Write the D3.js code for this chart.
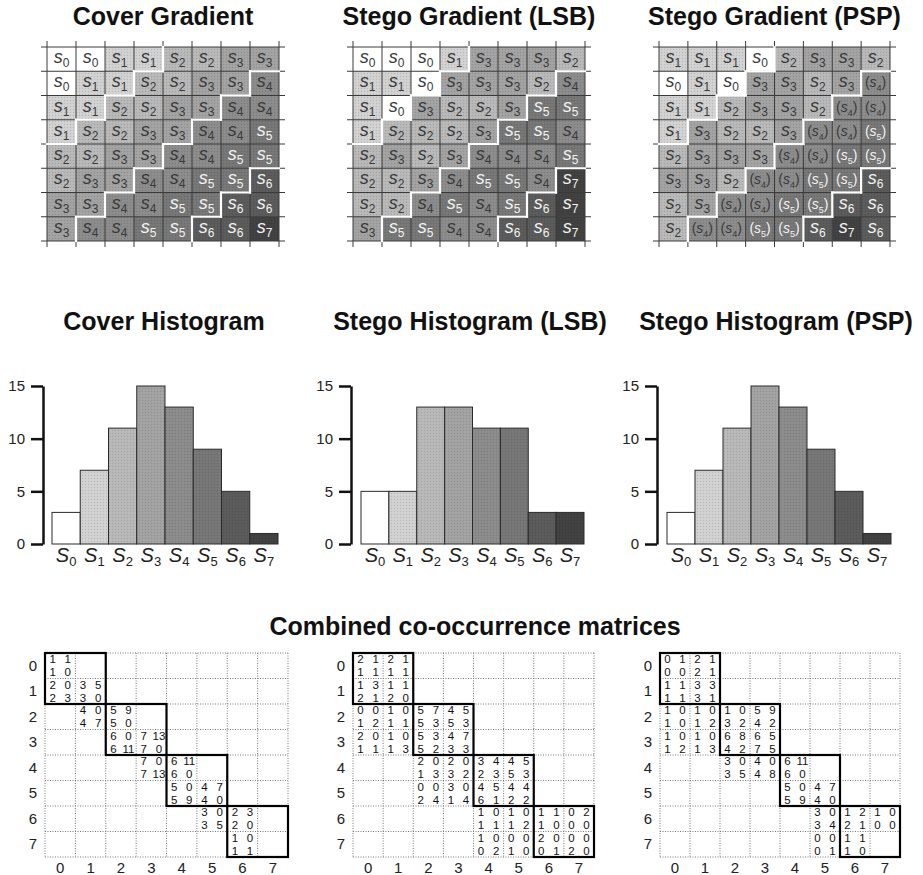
<!DOCTYPE html>
<html>
<head>
<meta charset="utf-8">
<script src="https://cdn.jsdelivr.net/npm/d3@7"></script>
<style>
  body { margin: 0; background: #fff; }
  svg text { font-family: "Liberation Sans", Arial, Helvetica, sans-serif; }
</style>
</head>
<body>
<svg id="chart" width="923" height="875"></svg>
<script>
// ---- data ----
const levels = d3.range(8); // s0 .. s7

const coverGrid = [
	[0, 0, 1, 1, 2, 2, 3, 3],
	[0, 1, 1, 2, 2, 3, 3, 4],
	[1, 1, 2, 2, 3, 3, 4, 4],
	[1, 2, 2, 3, 3, 4, 4, 5],
	[2, 2, 3, 3, 4, 4, 5, 5],
	[2, 3, 3, 4, 4, 5, 5, 6],
	[3, 3, 4, 4, 5, 5, 6, 6],
	[3, 4, 4, 5, 5, 6, 6, 7]
];

const lsbGrid = [
	[0, 0, 0, 1, 3, 3, 3, 2],
	[1, 1, 0, 3, 3, 3, 2, 4],
	[1, 0, 3, 2, 2, 3, 5, 5],
	[1, 2, 2, 2, 3, 5, 5, 4],
	[2, 3, 2, 3, 4, 4, 4, 5],
	[2, 2, 3, 4, 5, 5, 4, 7],
	[2, 2, 4, 5, 4, 5, 6, 7],
	[3, 5, 5, 4, 4, 6, 6, 7]
];

const pspGrid = [
	[1, 1, 1, 0, 2, 3, 3, 2],
	[0, 1, 0, 3, 3, 2, 3, 4],
	[1, 1, 2, 3, 3, 2, 4, 4],
	[1, 3, 2, 2, 3, 4, 4, 5],
	[2, 3, 3, 3, 4, 4, 5, 5],
	[3, 3, 2, 4, 4, 5, 5, 6],
	[2, 3, 4, 4, 5, 5, 6, 6],
	[2, 4, 4, 5, 5, 6, 7, 6]
];

// 1 = value shown in brackets (left untouched by PSP)
const pspKept = [
	[0, 0, 0, 0, 0, 0, 0, 0],
	[0, 0, 0, 0, 0, 0, 0, 1],
	[0, 0, 0, 0, 0, 0, 1, 1],
	[0, 0, 0, 0, 0, 1, 1, 1],
	[0, 0, 0, 0, 1, 1, 1, 1],
	[0, 0, 0, 1, 1, 1, 1, 0],
	[0, 0, 1, 1, 1, 1, 0, 0],
	[0, 1, 1, 1, 1, 0, 0, 0]
];

const coverHist = [3, 7, 11, 15, 13, 9, 5, 1];
const lsbHist = [5, 5, 13, 13, 11, 11, 3, 3];
const pspHist = [3, 7, 11, 15, 13, 9, 5, 1];
const yTicks = [0, 5, 10, 15];

// co-occurrence: 16 sub-rows x 16 sub-cols, '.' = empty
const coverCooc = [
	'1 1 . . . . . . . . . . . . . .',
	'1 0 . . . . . . . . . . . . . .',
	'2 0 3 5 . . . . . . . . . . . .',
	'2 3 3 0 . . . . . . . . . . . .',
	'. . 4 0 5 9 . . . . . . . . . .',
	'. . 4 7 5 0 . . . . . . . . . .',
	'. . . . 6 0 7 13 . . . . . . . .',
	'. . . . 6 11 7 0 . . . . . . . .',
	'. . . . . . 7 0 6 11 . . . . . .',
	'. . . . . . 7 13 6 0 . . . . . .',
	'. . . . . . . . 5 0 4 7 . . . .',
	'. . . . . . . . 5 9 4 0 . . . .',
	'. . . . . . . . . . 3 0 2 3 . .',
	'. . . . . . . . . . 3 5 2 0 . .',
	'. . . . . . . . . . . . 1 0 . .',
	'. . . . . . . . . . . . 1 1 . .'
];

const lsbCooc = [
	'2 1 2 1 . . . . . . . . . . . .',
	'1 1 1 1 . . . . . . . . . . . .',
	'1 3 1 1 . . . . . . . . . . . .',
	'2 1 2 0 . . . . . . . . . . . .',
	'0 0 1 0 5 7 4 5 . . . . . . . .',
	'1 2 1 1 5 3 5 3 . . . . . . . .',
	'2 0 1 0 5 3 4 7 . . . . . . . .',
	'1 1 1 3 5 2 3 3 . . . . . . . .',
	'. . . . 2 0 2 0 3 4 4 5 . . . .',
	'. . . . 1 3 3 2 2 3 5 3 . . . .',
	'. . . . 0 0 3 0 4 5 4 4 . . . .',
	'. . . . 2 4 1 4 6 1 2 2 . . . .',
	'. . . . . . . . 1 0 1 0 1 1 0 2',
	'. . . . . . . . 1 1 1 2 1 0 0 0',
	'. . . . . . . . 1 0 0 0 2 0 0 0',
	'. . . . . . . . 0 2 1 0 0 1 2 0'
];

const pspCooc = [
	'0 1 2 1 . . . . . . . . . . . .',
	'0 0 2 1 . . . . . . . . . . . .',
	'1 1 3 3 . . . . . . . . . . . .',
	'1 1 3 1 . . . . . . . . . . . .',
	'1 0 1 0 1 0 5 9 . . . . . . . .',
	'1 0 1 2 3 2 4 2 . . . . . . . .',
	'1 0 1 0 6 8 6 5 . . . . . . . .',
	'1 2 1 3 4 2 7 5 . . . . . . . .',
	'. . . . 3 0 4 0 6 11 . . . . . .',
	'. . . . 3 5 4 8 6 0 . . . . . .',
	'. . . . . . . . 5 0 4 7 . . . .',
	'. . . . . . . . 5 9 4 0 . . . .',
	'. . . . . . . . . . 3 0 1 2 1 0',
	'. . . . . . . . . . 3 4 2 1 0 0',
	'. . . . . . . . . . 0 0 1 1 . .',
	'. . . . . . . . . . 0 1 1 0 . .'
];

const blockStarts = [0, 2, 4, 6]; // the s_{2k}/s_{2k+1} pair blocks

// ---- style ----
const shades = ['#ffffff', '#d3d3d3', '#bababa', '#a4a4a4', '#8d8d8d', '#787878', '#5c5c5c', '#424242'];
const group = (v) => Math.floor(v / 2);

const svg = d3.select('#chart');

// halftone dots, the print look of the original
const defs = svg.append('defs');
defs.append('pattern')
	.attr('id', 'dots')
	.attr('width', 3)
	.attr('height', 3)
	.attr('patternUnits', 'userSpaceOnUse')
	.append('circle')
	.attr('cx', 1.5)
	.attr('cy', 1.5)
	.attr('r', 0.7)
	.attr('fill', 'rgba(0,0,0,0.13)');

function title(g, x, y, txt) {
	g.append('text')
		.attr('x', x)
		.attr('y', y)
		.attr('text-anchor', 'middle')
		.attr('font-size', 25)
		.attr('font-weight', 'bold')
		.attr('fill', '#111')
		.text(txt);
}

/**
 * Draws one 8x8 gradient image with s_k labels
 */
function drawGradient(grid, kept, box, txt) {
	const g = svg.append('g').attr('class', 'gradient');
	const x = d3.scaleBand().domain(d3.range(8)).range([box.x0, box.x1]);
	const y = d3.scaleBand().domain(d3.range(8)).range([box.y0, box.y1]);

	const cells = grid.flatMap((row, r) =>
		row.map((v, c) => ({ r, c, v, kept: kept ? kept[r][c] === 1 : false }))
	);

	title(g, (box.x0 + box.x1) / 2, 25, txt);

	g.selectAll('rect.cell')
		.data(cells)
		.join('rect')
		.attr('class', 'cell')
		.attr('x', (d) => x(d.c))
		.attr('y', (d) => y(d.r))
		.attr('width', x.bandwidth())
		.attr('height', y.bandwidth())
		.attr('fill', (d) => shades[d.v]);

	g.selectAll('rect.dots')
		.data(cells.filter((d) => d.v > 0))
		.join('rect')
		.attr('class', 'dots')
		.attr('x', (d) => x(d.c))
		.attr('y', (d) => y(d.r))
		.attr('width', x.bandwidth())
		.attr('height', y.bandwidth())
		.attr('fill', 'url(#dots)');

	// grid lines, running a little past the edges
	const ext = 6;
	const xs = d3.range(9).map((i) => box.x0 + i * x.step());
	const ys = d3.range(9).map((i) => box.y0 + i * y.step());
	g.selectAll('line.gv')
		.data(xs)
		.join('line')
		.attr('x1', (d) => d)
		.attr('x2', (d) => d)
		.attr('y1', box.y0 - ext)
		.attr('y2', box.y1 + ext)
		.attr('stroke', '#3a3a3a')
		.attr('stroke-width', 1);
	g.selectAll('line.gh')
		.data(ys)
		.join('line')
		.attr('x1', box.x0 - ext)
		.attr('x2', box.x1 + ext)
		.attr('y1', (d) => d)
		.attr('y2', (d) => d)
		.attr('stroke', '#3a3a3a')
		.attr('stroke-width', 1);

	// white borders between pair groups
	const seg = [];
	cells.forEach((d) => {
		if (d.c < 7 && group(d.v) !== group(grid[d.r][d.c + 1])) {
			const xx = x(d.c + 1);
			seg.push([xx, y(d.r), xx, y(d.r) + y.bandwidth()]);
		}
		if (d.r < 7 && group(d.v) !== group(grid[d.r + 1][d.c])) {
			const yy = y(d.r + 1);
			seg.push([x(d.c), yy, x(d.c) + x.bandwidth(), yy]);
		}
	});
	g.selectAll('line.wb')
		.data(seg)
		.join('line')
		.attr('x1', (d) => d[0])
		.attr('y1', (d) => d[1])
		.attr('x2', (d) => d[2])
		.attr('y2', (d) => d[3])
		.attr('stroke', '#fff')
		.attr('stroke-width', 2.2)
		.attr('stroke-linecap', 'square');

	const labels = g.selectAll('text.lab')
		.data(cells)
		.join('text')
		.attr('class', 'lab')
		.attr('x', (d) => x(d.c) + x.bandwidth() / 2)
		.attr('y', (d) => y(d.r) + y.bandwidth() / 2 + 4)
		.attr('text-anchor', 'middle')
		.attr('font-size', (d) => (d.kept ? 14 : 18))
		.attr('fill', (d) => (d.v >= 5 ? '#f2f2f2' : '#3a3a3a'));

	labels.each(function (d) {
		const t = d3.select(this);
		if (d.kept) t.append('tspan').text('(');
		t.append('tspan').attr('font-style', 'italic').text('s');
		t.append('tspan')
			.attr('font-size', d.kept ? 9 : 12)
			.attr('dy', 4)
			.text(d.v);
		if (d.kept) t.append('tspan').attr('dy', -4).text(')');
	});
}

/**
 * Histogram of s_k counts
 */
function drawHistogram(counts, box, txt) {
	const g = svg.append('g').attr('class', 'histogram');
	const x = d3.scaleBand().domain(levels).range([box.bx0, box.bx1]);
	const y = d3.scaleLinear().domain([0, 15]).range([544, 386]);

	title(g, box.tx, 330, txt);

	g.selectAll('rect.bar')
		.data(counts)
		.join('rect')
		.attr('class', 'bar')
		.attr('x', (d, i) => x(i))
		.attr('y', (d) => y(d))
		.attr('width', x.bandwidth())
		.attr('height', (d) => y(0) - y(d))
		.attr('fill', (d, i) => shades[i])
		.attr('stroke', '#2a2a2a')
		.attr('stroke-width', 1);

	g.selectAll('rect.bdots')
		.data(counts)
		.join('rect')
		.attr('class', 'bdots')
		.attr('x', (d, i) => x(i) + 0.5)
		.attr('y', (d) => y(d) + 0.5)
		.attr('width', (d, i) => (i === 0 ? 0 : x.bandwidth() - 1))
		.attr('height', (d) => Math.max(0, y(0) - y(d) - 1))
		.attr('fill', 'url(#dots)');

	const axis = d3.axisLeft(y)
		.tickValues(yTicks)
		.tickSize(12)
		.tickSizeOuter(0)
		.tickPadding(6);

	const ax = g.append('g')
		.attr('transform', `translate(${box.ax},0)`)
		.call(axis);
	ax.select('.domain').attr('stroke', '#111').attr('stroke-width', 2.5);
	ax.selectAll('.tick line').attr('stroke', '#111').attr('stroke-width', 2.5);
	ax.selectAll('.tick text')
		.attr('font-size', 15)
		.attr('fill', '#222')
		.style('font-family', '"Liberation Sans", Arial, sans-serif');

	const xl = g.selectAll('text.xl')
		.data(levels)
		.join('text')
		.attr('class', 'xl')
		.attr('x', (d) => x(d) + x.bandwidth() / 2)
		.attr('y', 562)
		.attr('text-anchor', 'middle')
		.attr('fill', '#222')
		.attr('font-size', 20);
	xl.append('tspan').attr('font-style', 'italic').text('S');
	xl.append('tspan').attr('font-size', 13).attr('dy', 4).text((d) => d);
}

/**
 * Combined co-occurrence matrix, 8x8 cells each holding 2x2 counts
 */
function drawCooc(rows, box) {
	const vals = rows.map((s) => s.split(' ').map((t) => (t === '.' ? null : +t)));
	const g = svg.append('g').attr('class', 'cooc');
	const x = d3.scaleBand().domain(d3.range(16)).range([box.x0, box.x1]);
	const y = d3.scaleBand().domain(d3.range(16)).range([box.y0, box.y1]);
	const cw = x.step() * 2;
	const ch = y.step() * 2;

	const xs = d3.range(9).map((i) => box.x0 + i * cw);
	const ys = d3.range(9).map((i) => box.y0 + i * ch);
	g.selectAll('line.gv')
		.data(xs)
		.join('line')
		.attr('x1', (d) => d)
		.attr('x2', (d) => d)
		.attr('y1', box.y0)
		.attr('y2', box.y1)
		.attr('stroke', '#777')
		.attr('stroke-width', 1)
		.attr('stroke-dasharray', '1,1.5');
	g.selectAll('line.gh')
		.data(ys)
		.join('line')
		.attr('x1', box.x0)
		.attr('x2', box.x1)
		.attr('y1', (d) => d)
		.attr('y2', (d) => d)
		.attr('stroke', '#777')
		.attr('stroke-width', 1)
		.attr('stroke-dasharray', '1,1.5');

	g.selectAll('rect.block')
		.data(blockStarts)
		.join('rect')
		.attr('class', 'block')
		.attr('x', (d) => box.x0 + d * cw)
		.attr('y', (d) => box.y0 + d * ch)
		.attr('width', cw * 2)
		.attr('height', ch * 2)
		.attr('fill', 'none')
		.attr('stroke', '#000')
		.attr('stroke-width', 2.2);

	const nums = vals.flatMap((row, r) =>
		row.map((v, c) => ({ r, c, v })).filter((d) => d.v !== null)
	);
	g.selectAll('text.num')
		.data(nums)
		.join('text')
		.attr('class', 'num')
		.attr('x', (d) => x(d.c) + x.bandwidth() / 2)
		.attr('y', (d) => y(d.r) + y.bandwidth() / 2 + 4)
		.attr('text-anchor', 'middle')
		.attr('font-size', 11.5)
		.attr('fill', '#111')
		.text((d) => d.v);

	g.selectAll('text.rl')
		.data(levels)
		.join('text')
		.attr('class', 'rl')
		.attr('x', box.x0 - 12)
		.attr('y', (d) => box.y0 + d * ch + ch / 2 + 5)
		.attr('text-anchor', 'middle')
		.attr('font-size', 15)
		.attr('fill', '#222')
		.text((d) => d);

	g.selectAll('text.cl')
		.data(levels)
		.join('text')
		.attr('class', 'cl')
		.attr('x', (d) => box.x0 + d * cw + cw / 2)
		.attr('y', box.y1 + 16)
		.attr('text-anchor', 'middle')
		.attr('font-size', 15)
		.attr('fill', '#222')
		.text((d) => d);
}

// ---- layout ----
drawGradient(coverGrid, null, { x0: 47, x1: 279, y0: 47, y1: 241 }, 'Cover Gradient');
drawGradient(lsbGrid, null, { x0: 353, x1: 585, y0: 47, y1: 241 }, 'Stego Gradient (LSB)');
drawGradient(pspGrid, pspKept, { x0: 659, x1: 890, y0: 47, y1: 241 }, 'Stego Gradient (PSP)');

drawHistogram(coverHist, { bx0: 52, bx1: 278, ax: 43, tx: 164 }, 'Cover Histogram');
drawHistogram(lsbHist, { bx0: 361, bx1: 584, ax: 351, tx: 470 }, 'Stego Histogram (LSB)');
drawHistogram(pspHist, { bx0: 667, bx1: 891, ax: 657, tx: 776 }, 'Stego Histogram (PSP)');

title(svg, 475, 635, 'Combined co-occurrence matrices');

drawCooc(coverCooc, { x0: 45, x1: 288, y0: 653, y1: 857 });
drawCooc(lsbCooc, { x0: 353, x1: 594, y0: 653, y1: 857 });
drawCooc(pspCooc, { x0: 660, x1: 900, y0: 653, y1: 857 });
</script>
</body>
</html>
